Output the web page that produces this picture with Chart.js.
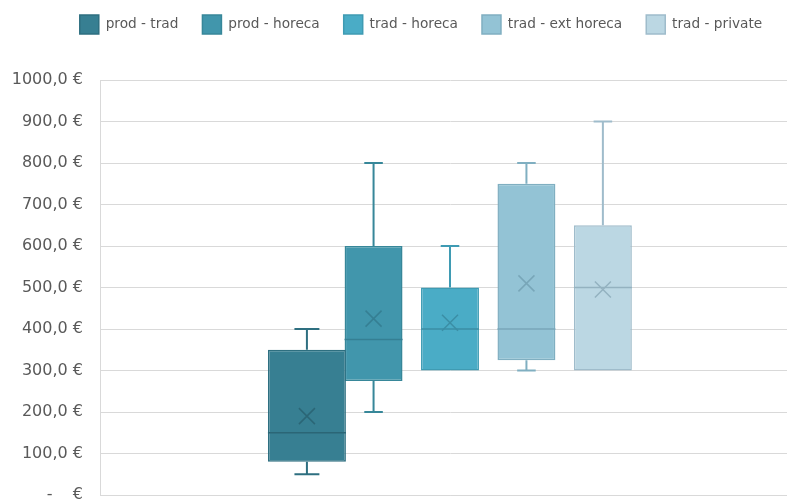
<!DOCTYPE html>
<html>
<head>
<meta charset="utf-8">
<script src="https://cdn.jsdelivr.net/npm/chart.js@4/dist/chart.umd.min.js"></script>
<style>
  html, body { margin: 0; padding: 0; background: #fff; overflow: hidden; }
  #wrap { width: 800px; height: 501px; }
</style>
</head>
<body>
<div id="wrap"><canvas id="boxChart"></canvas></div>
<script>
// price spread per route, one box per series
const series = ["prod - trad", "prod - horeca", "trad - horeca", "trad - ext horeca", "trad - private"];
const minVals = [50, 200, 300, 300, 300];
const q1Vals = [80, 275, 300, 325, 300];
const medianVals = [150, 375, 400, 400, 500];
const q3Vals = [350, 600, 500, 750, 650];
const maxVals = [400, 800, 600, 800, 900];
const meanVals = [190, 425, 415, 510, 495];
const yTicks = [0, 100, 200, 300, 400, 500, 600, 700, 800, 900, 1000];

const fills = ["#377f92", "#4196ac", "#4aacc6", "#93c3d5", "#bbd7e3"];
const edges = ["#2e6f80", "#378799", "#3f9bb3", "#80afc1", "#9fbccb"];
const inner = ["#2b6676", "#357f93", "#3b8ea5", "#78a6b8", "#94b2c0"];

const GRAY = "#d9d9d9";
const TEXT = "#595959";

const fmtEuro = (v) => v === 0 ? "-    €" : v.toFixed(1).replace(".", ",") + " €";

// whiskers, median line and mean cross, placed from each bar element
const boxExtras = {
  id: "boxExtras",
  afterDatasetsDraw(chart) {
    const ctx = chart.ctx;
    const y = chart.scales.y;
    chart.data.datasets.forEach((ds, i) => {
      const bar = chart.getDatasetMeta(i).data[0];
      if (!bar) return;
      const x = bar.x;
      const w = bar.width;
      const cap = w * 0.32;
      ctx.save();
      ctx.strokeStyle = edges[i];
      ctx.lineWidth = 2;
      ctx.beginPath();
      if (maxVals[i] > q3Vals[i]) {
        ctx.moveTo(x, y.getPixelForValue(q3Vals[i]));
        ctx.lineTo(x, y.getPixelForValue(maxVals[i]));
        ctx.moveTo(x - cap / 2, y.getPixelForValue(maxVals[i]));
        ctx.lineTo(x + cap / 2, y.getPixelForValue(maxVals[i]));
      }
      if (minVals[i] < q1Vals[i]) {
        ctx.moveTo(x, y.getPixelForValue(q1Vals[i]));
        ctx.lineTo(x, y.getPixelForValue(minVals[i]));
        ctx.moveTo(x - cap / 2, y.getPixelForValue(minVals[i]));
        ctx.lineTo(x + cap / 2, y.getPixelForValue(minVals[i]));
      }
      ctx.stroke();

      ctx.strokeStyle = inner[i];
      ctx.lineWidth = 1.5;
      const my = y.getPixelForValue(medianVals[i]);
      ctx.beginPath();
      ctx.moveTo(x - w / 2, my);
      ctx.lineTo(x + w / 2, my);
      ctx.stroke();

      const ay = y.getPixelForValue(meanVals[i]);
      const r = 8;
      ctx.beginPath();
      ctx.moveTo(x - r, ay - r);
      ctx.lineTo(x + r, ay + r);
      ctx.moveTo(x + r, ay - r);
      ctx.lineTo(x - r, ay + r);
      ctx.stroke();
      ctx.restore();
    });
  }
};

// more room under the legend, and legend row nudged right / up
const legendPlace = {
  id: "legendPlace",
  beforeInit(chart) {
    const fit = chart.legend.fit;
    chart.legend.fit = function () {
      fit.bind(chart.legend)();
      this.height += 27;
    };
  },
  afterLayout(chart) {
    chart.legend.left += 42;
    chart.legend.top -= 9;
  }
};

const catPct = [0.511, 0.546, 0.546, 0.546, 0.546];
const barPct = [1.09, 0.758, 0.758, 0.758, 0.758];

const datasets = series.map((name, i) => ({
  label: name,
  data: [[q1Vals[i], q3Vals[i]]],
  backgroundColor: fills[i],
  borderColor: edges[i],
  borderWidth: 1.5,
  borderSkipped: false,
  categoryPercentage: catPct[i],
  barPercentage: barPct[i]
}));

Chart.defaults.font.family = "'DejaVu Sans', 'Liberation Sans', sans-serif";
Chart.defaults.color = TEXT;

new Chart(document.getElementById("boxChart"), {
  type: "bar",
  data: { labels: [""], datasets },
  options: {
    responsive: true,
    maintainAspectRatio: false,
    animation: false,
    layout: { padding: 0 },
    plugins: {
      tooltip: { enabled: false },
      legend: {
        position: "top",
        labels: {
          boxWidth: 19,
          boxHeight: 19,
          padding: 24,
          color: TEXT,
          font: { size: 13.7 }
        }
      }
    },
    scales: {
      x: {
        grid: { display: false, drawTicks: false },
        ticks: { display: false },
        border: { display: true, color: GRAY, width: 1 }
      },
      y: {
        min: 0,
        max: 1000,
        afterBuildTicks: (s) => { s.ticks = yTicks.map(v => ({ value: v })); },
        afterFit: (s) => { s.width = 100; s.paddingBottom = 6; },
        grid: { color: GRAY, lineWidth: 1, drawTicks: false },
        border: { display: true, color: GRAY, width: 1 },
        ticks: {
          padding: 17,
          color: TEXT,
          font: { size: 16 },
          callback: fmtEuro
        }
      }
    }
  },
  plugins: [boxExtras, legendPlace]
});
</script>
</body>
</html>
